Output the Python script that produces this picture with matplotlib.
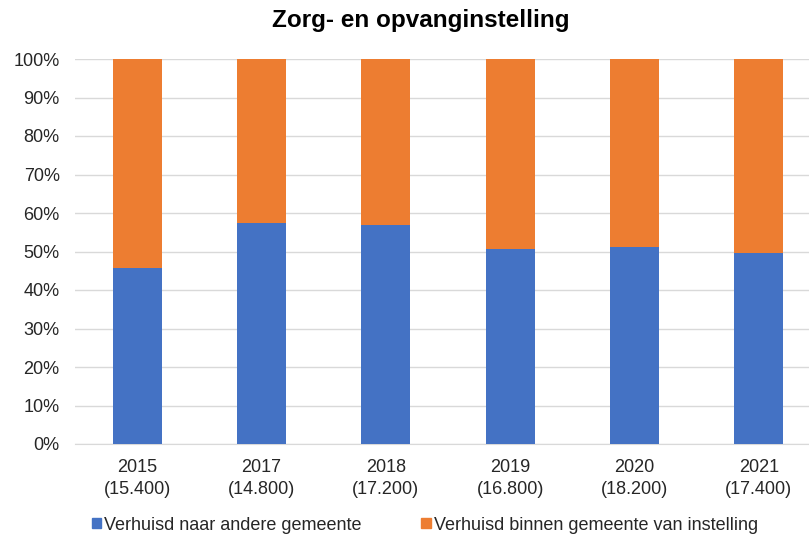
import matplotlib
matplotlib.use("Agg")
import matplotlib.pyplot as plt
from matplotlib.patches import Patch
import numpy as np

years = ["2015", "2017", "2018", "2019", "2020", "2021"]
totals = ["(15.400)", "(14.800)", "(17.200)", "(16.800)", "(18.200)", "(17.400)"]
naar_andere = [45.7, 57.4, 56.9, 50.6, 51.1, 49.6]
binnen = [100 - v for v in naar_andere]

blue = "#4472C4"
orange = "#ED7D31"

plt.rcParams['font.family'] = ['Liberation Sans', 'DejaVu Sans']

W, H = 809, 539
fig = plt.figure(figsize=(W/100, H/100), dpi=100)
ax = fig.add_axes([75/W, 95/H, (821-75)/W, 385/H])

x = np.arange(len(years))
ax.bar(x, naar_andere, width=0.395, color=blue, zorder=3)
ax.bar(x, binnen, width=0.395, bottom=naar_andere, color=orange, zorder=3)

ax.set_xlim(-0.5, len(years) - 0.5)
ax.set_ylim(0, 100)
ax.set_yticks(np.arange(0, 101, 10))
ax.set_yticklabels([f"{v}%" for v in range(0, 101, 10)], fontsize=13, color="#262626")
ax.set_xticks(x)
ax.set_xticklabels([f"{y}\n{t}" for y, t in zip(years, totals)], fontsize=13,
                   color="#262626", linespacing=1.35)
ax.tick_params(axis='both', length=0)
ax.tick_params(axis='x', pad=11)
ax.tick_params(axis='y', pad=11)
ax.grid(axis='y', color="#D9D9D9", linewidth=1, zorder=0)
for s in ['top', 'right', 'left']:
    ax.spines[s].set_visible(False)
ax.spines['bottom'].set_color("#D9D9D9")

fig.text(421/W, 1 - 20/H, "Zorg- en opvanginstelling", ha='center', va='center',
         fontsize=17.5, fontweight='bold', color="#000000")

handles = [Patch(color=blue, label="Verhuisd naar andere gemeente"),
           Patch(color=orange, label="Verhuisd binnen gemeente van instelling")]
fig.legend(handles=handles, loc='center', bbox_to_anchor=(425/W, 1 - 525/H), ncol=2,
           frameon=False, fontsize=13, handlelength=0.5, handleheight=0.5,
           handletextpad=0.2, columnspacing=3.3, labelcolor="#262626")

fig.savefig("out.png", dpi=100)
